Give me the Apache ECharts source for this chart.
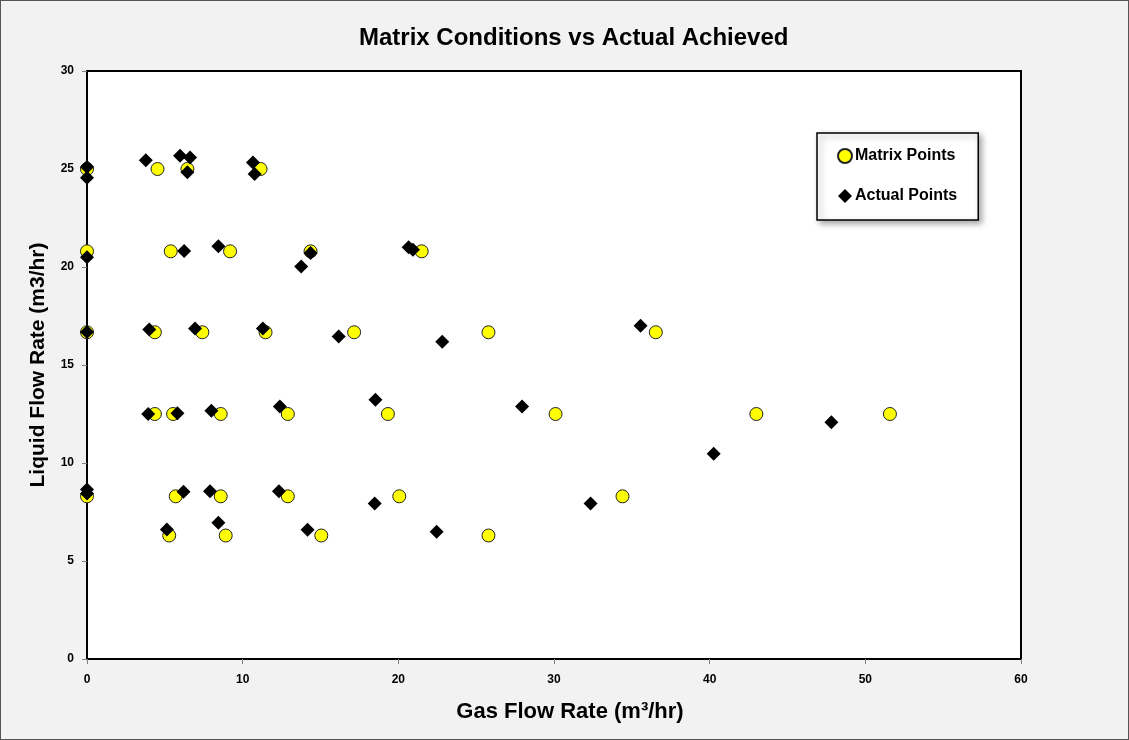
<!DOCTYPE html>
<html>
<head>
<meta charset="utf-8">
<script src="https://cdn.jsdelivr.net/npm/echarts@6/dist/echarts.min.js"></script>
<style>
html,body{margin:0;padding:0;background:#fff;}
#c{width:1129px;height:740px;box-sizing:border-box;border:1px solid #555;background:#f2f2f2;}
</style>
</head>
<body>
<div id="c"></div>
<script>
const titleText = 'Matrix Conditions vs Actual Achieved';
const xAxisName = 'Gas Flow Rate (m³/hr)';
const yAxisName = 'Liquid Flow Rate (m3/hr)';
const seriesNames = ['Matrix Points', 'Actual Points'];

// Matrix (planned) conditions [gas, liquid]
const matrixGas    = [0, 4.53, 6.45, 11.15, 0, 5.38, 9.19, 14.36, 21.5, 0, 4.36, 7.41, 11.47, 17.16, 25.79, 36.54, 4.36, 5.53, 8.59, 12.9, 19.33, 30.1, 43.0, 51.58, 0, 5.7, 8.59, 12.9, 20.06, 34.4, 5.28, 8.91, 15.05, 25.79];
const matrixLiquid = [25.0, 25.0, 25.0, 25.0, 20.8, 20.8, 20.8, 20.8, 20.8, 16.67, 16.67, 16.67, 16.67, 16.67, 16.67, 16.67, 12.5, 12.5, 12.5, 12.5, 12.5, 12.5, 12.5, 12.5, 8.3, 8.3, 8.3, 8.3, 8.3, 8.3, 6.3, 6.3, 6.3, 6.3];

// Actual achieved [gas, liquid]
const actualGas    = [0, 0, 3.78, 5.98, 6.62, 6.45, 10.66, 10.77, 0, 6.24, 8.44, 14.36, 13.76, 20.66, 20.94, 0, 4.0, 6.94, 11.3, 16.17, 22.82, 35.56, 3.93, 5.81, 7.99, 12.39, 18.53, 27.95, 47.82, 40.26, 0, 0, 6.2, 7.9, 12.33, 18.48, 32.35, 5.13, 8.44, 14.17, 22.46];
const actualLiquid = [25.1, 24.55, 25.45, 25.67, 25.59, 24.83, 25.33, 24.74, 20.5, 20.81, 21.06, 20.71, 20.03, 21.01, 20.88, 16.69, 16.81, 16.86, 16.86, 16.45, 16.18, 17.0, 12.5, 12.54, 12.67, 12.88, 13.23, 12.88, 12.08, 10.47, 8.65, 8.45, 8.53, 8.56, 8.56, 7.93, 7.93, 6.61, 6.95, 6.59, 6.49];

const xTicks = {min: 0, max: 60, interval: 10};
const yTicks = {min: 0, max: 30, interval: 5};

const matrixData = matrixGas.map((g, i) => [g, matrixLiquid[i]]);
const actualData = actualGas.map((g, i) => [g, actualLiquid[i]]);

const FONT = '"Liberation Sans", Arial, sans-serif';

const chart = echarts.init(document.getElementById('c'), null, {renderer: 'canvas'});
chart.setOption({
  backgroundColor: '#f2f2f2',
  animation: false,
  title: {
    text: titleText,
    left: 353,
    top: 20,
    textStyle: {fontFamily: FONT, fontWeight: 'bold', fontSize: 24, color: '#000'}
  },
  legend: {
    orient: 'vertical',
    left: 816,
    top: 132,
    width: 162,
    padding: [15, 21, 16, 20],
    itemGap: 24,
    itemWidth: 14,
    itemHeight: 14,
    backgroundColor: '#fff',
    borderColor: '#000',
    borderWidth: 1.5,
    shadowColor: 'rgba(0,0,0,0.35)',
    shadowBlur: 6,
    shadowOffsetX: 3,
    shadowOffsetY: 3,
    textStyle: {fontFamily: FONT, fontWeight: 'bold', fontSize: 16, color: '#000', padding: [0, 0, 0, -2]},
    data: seriesNames
  },
  grid: {
    left: 86, right: 107, top: 70, bottom: 80,
    show: true, backgroundColor: '#fff', borderColor: '#000', borderWidth: 2
  },
  xAxis: {
    type: 'value',
    min: xTicks.min, max: xTicks.max, interval: xTicks.interval,
    name: xAxisName,
    nameLocation: 'middle',
    nameGap: 42,
    nameTextStyle: {fontFamily: FONT, fontWeight: 'bold', fontSize: 22, color: '#000', padding: [0, 0, 0, 32]},
    axisLine: {show: true, onZero: false, lineStyle: {color: '#000', width: 2}},
    axisTick: {show: true, inside: false, length: 5, lineStyle: {color: '#808080'}},
    axisLabel: {fontFamily: FONT, fontWeight: 'bold', fontSize: 12, color: '#000', margin: 15},
    splitLine: {show: false}
  },
  yAxis: {
    type: 'value',
    min: yTicks.min, max: yTicks.max, interval: yTicks.interval,
    name: yAxisName,
    nameLocation: 'middle',
    nameGap: 38,
    nameTextStyle: {fontFamily: FONT, fontWeight: 'bold', fontSize: 21, color: '#000'},
    axisLine: {show: true, onZero: false, lineStyle: {color: '#000', width: 2}},
    axisTick: {show: true, inside: false, length: 5, lineStyle: {color: '#808080'}},
    axisLabel: {fontFamily: FONT, fontWeight: 'bold', fontSize: 12, color: '#000', margin: 13},
    splitLine: {show: false}
  },
  series: [
    {
      name: seriesNames[0],
      type: 'scatter',
      symbol: 'circle',
      symbolSize: 13,
      itemStyle: {color: '#ffff00', borderColor: '#222', borderWidth: 1, opacity: 1},
      data: matrixData,
      z: 2
    },
    {
      name: seriesNames[1],
      type: 'scatter',
      symbol: 'diamond',
      symbolSize: 14,
      itemStyle: {color: '#000', opacity: 1},
      data: actualData,
      z: 3
    }
  ]
});
</script>
</body>
</html>
